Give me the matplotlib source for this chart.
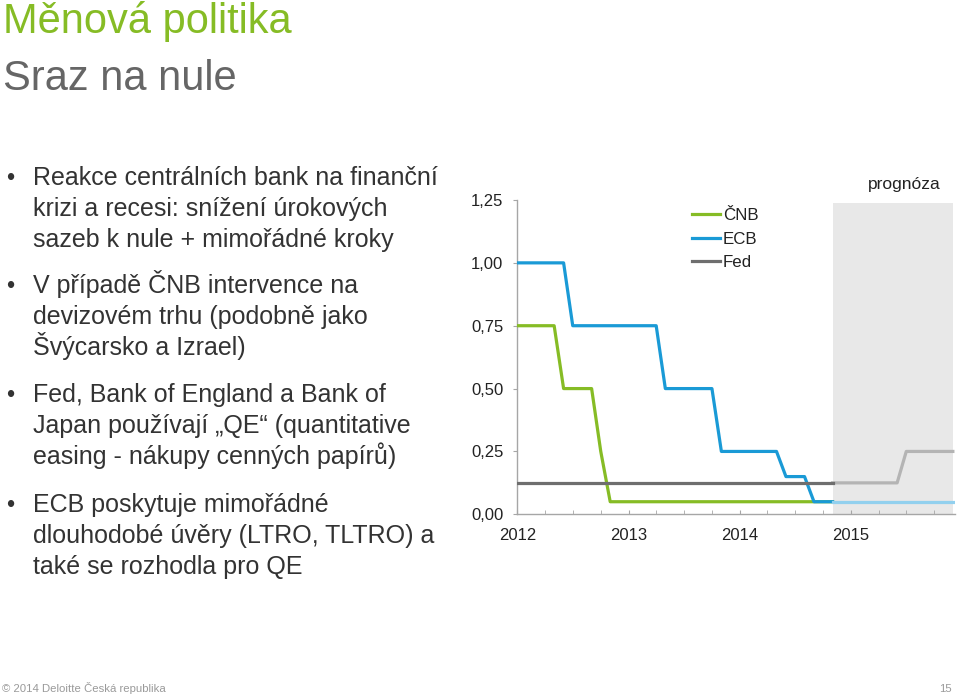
import numpy as np
import pandas as pd
import matplotlib
matplotlib.use("Agg")
import matplotlib.pyplot as plt
import matplotlib.dates as mdates

plt.rcParams['font.family'] = ['Liberation Sans', 'DejaVu Sans']

# Monthly policy rates (%), Jan 2012 - Nov 2014
months = pd.date_range("2012-01-01", "2014-11-01", freq="MS")
cnb = [0.75, 0.75, 0.75, 0.75, 0.75, 0.50, 0.50, 0.50, 0.50, 0.25, 0.05, 0.05,
       0.05, 0.05, 0.05, 0.05, 0.05, 0.05, 0.05, 0.05, 0.05, 0.05, 0.05, 0.05,
       0.05, 0.05, 0.05, 0.05, 0.05, 0.05, 0.05, 0.05, 0.05, 0.05, 0.05]
ecb = [1.00, 1.00, 1.00, 1.00, 1.00, 1.00, 0.75, 0.75, 0.75, 0.75, 0.75, 0.75,
       0.75, 0.75, 0.75, 0.75, 0.50, 0.50, 0.50, 0.50, 0.50, 0.50, 0.25, 0.25,
       0.25, 0.25, 0.25, 0.25, 0.25, 0.15, 0.15, 0.15, 0.05, 0.05, 0.05]
fed = [0.125] * 35

# Forecast, Nov 2014 - Dec 2015
months_fc = pd.date_range("2014-11-01", "2015-12-01", freq="MS")
ecb_fc = [0.05, 0.05, 0.05, 0.05, 0.05, 0.05, 0.05, 0.05, 0.05, 0.05, 0.05, 0.05, 0.05, 0.05]
fed_fc = [0.125, 0.125, 0.125, 0.125, 0.125, 0.125, 0.125, 0.125, 0.25, 0.25, 0.25, 0.25, 0.25, 0.25]

years = ["2012", "2013", "2014", "2015"]

bullets = [
    ["Reakce centrálních bank na finanční",
     "krizi a recesi: snížení úrokových",
     "sazeb k nule + mimořádné kroky"],
    ["V případě ČNB intervence na",
     "devizovém trhu (podobně jako",
     "Švýcarsko a Izrael)"],
    ["Fed, Bank of England a Bank of",
     "Japan používají „QE“ (quantitative",
     "easing - nákupy cenných papírů)"],
    ["ECB poskytuje mimořádné",
     "dlouhodobé úvěry (LTRO, TLTRO) a",
     "také se rozhodla pro QE"],
]

GREEN = "#86BC25"
BLUE = "#1A9AD6"
DGRAY = "#6E6E6E"

W, H = 960, 696
fig = plt.figure(figsize=(W / 100, H / 100), dpi=100)


def fy(y):
    return 1 - y / H


# Titles
fig.text(3 / W, fy(33), "Měnová politika", fontsize=30, color=GREEN)
fig.text(3 / W, fy(90), "Sraz na nule", fontsize=30, color="#666666")

# Bullet text
block_tops = [185, 293, 402, 512]
for top, lines in zip(block_tops, bullets):
    fig.text(6 / W, fy(top), "•", fontsize=17, color="#333333")
    for i, line in enumerate(lines):
        fig.text(33 / W, fy(top + i * 31), line, fontsize=18, color="#333333")

# Footer
fig.text(2 / W, fy(692), "© 2014 Deloitte Česká republika", fontsize=8.2, color="#9a9a9a")
fig.text(952 / W, fy(692), "15", fontsize=8.2, color="#9a9a9a", ha="right")

# Chart
ax = fig.add_axes([517.3 / W, (H - 514.3) / H, (955 - 517.3) / W, (514.3 - 200) / H])

ax.axvspan(months_fc[0], months_fc[-1], ymin=0, ymax=0.99, color="#E8E8E8", lw=0, zorder=0)

ax.plot(months, cnb, color=GREEN, lw=2.3, label="ČNB", zorder=3)
ax.plot(months, ecb, color=BLUE, lw=2.3, label="ECB", zorder=3)
ax.plot(months, fed, color=DGRAY, lw=2.3, label="Fed", zorder=4)
ax.plot(months_fc, ecb_fc, color="#92D0EE", lw=2.3, zorder=3)
ax.plot(months_fc, fed_fc, color="#B4B4B4", lw=2.3, zorder=3)

ax.set_ylim(0, 1.25)
ax.set_xlim(pd.Timestamp("2012-01-01"), pd.Timestamp("2015-12-08"))
ax.set_yticks([0, 0.25, 0.5, 0.75, 1.0, 1.25])
ax.set_yticklabels(["0,00", "0,25", "0,50", "0,75", "1,00", "1,25"])
ax.set_xticks([pd.Timestamp(y + "-01-01") for y in years])
ax.set_xticklabels(years)
ax.xaxis.set_minor_locator(mdates.MonthLocator(bymonth=[4, 7, 10]))

for s in ["top", "right"]:
    ax.spines[s].set_visible(False)
for s in ["left", "bottom"]:
    ax.spines[s].set_color("#A6A6A6")
    ax.spines[s].set_linewidth(1)

ax.tick_params(axis="x", which="both", direction="in", length=3, color="#A6A6A6",
               labelsize=12, labelcolor="#222222", pad=10)
ax.tick_params(axis="y", direction="out", length=3, color="#A6A6A6",
               labelsize=12, labelcolor="#222222", pad=7)

ax.text(pd.Timestamp("2015-06-25"), 1.31, "prognóza", ha="center", va="center",
        fontsize=12.5, color="#222222", clip_on=False)

ax.legend(loc="upper left", bbox_to_anchor=(0.398, 0.974), frameon=False,
          fontsize=12.2, handlelength=1.7, handletextpad=0.15, labelspacing=0.5,
          borderpad=0, borderaxespad=0, labelcolor="#222222")

fig.savefig("out.png", dpi=100)
